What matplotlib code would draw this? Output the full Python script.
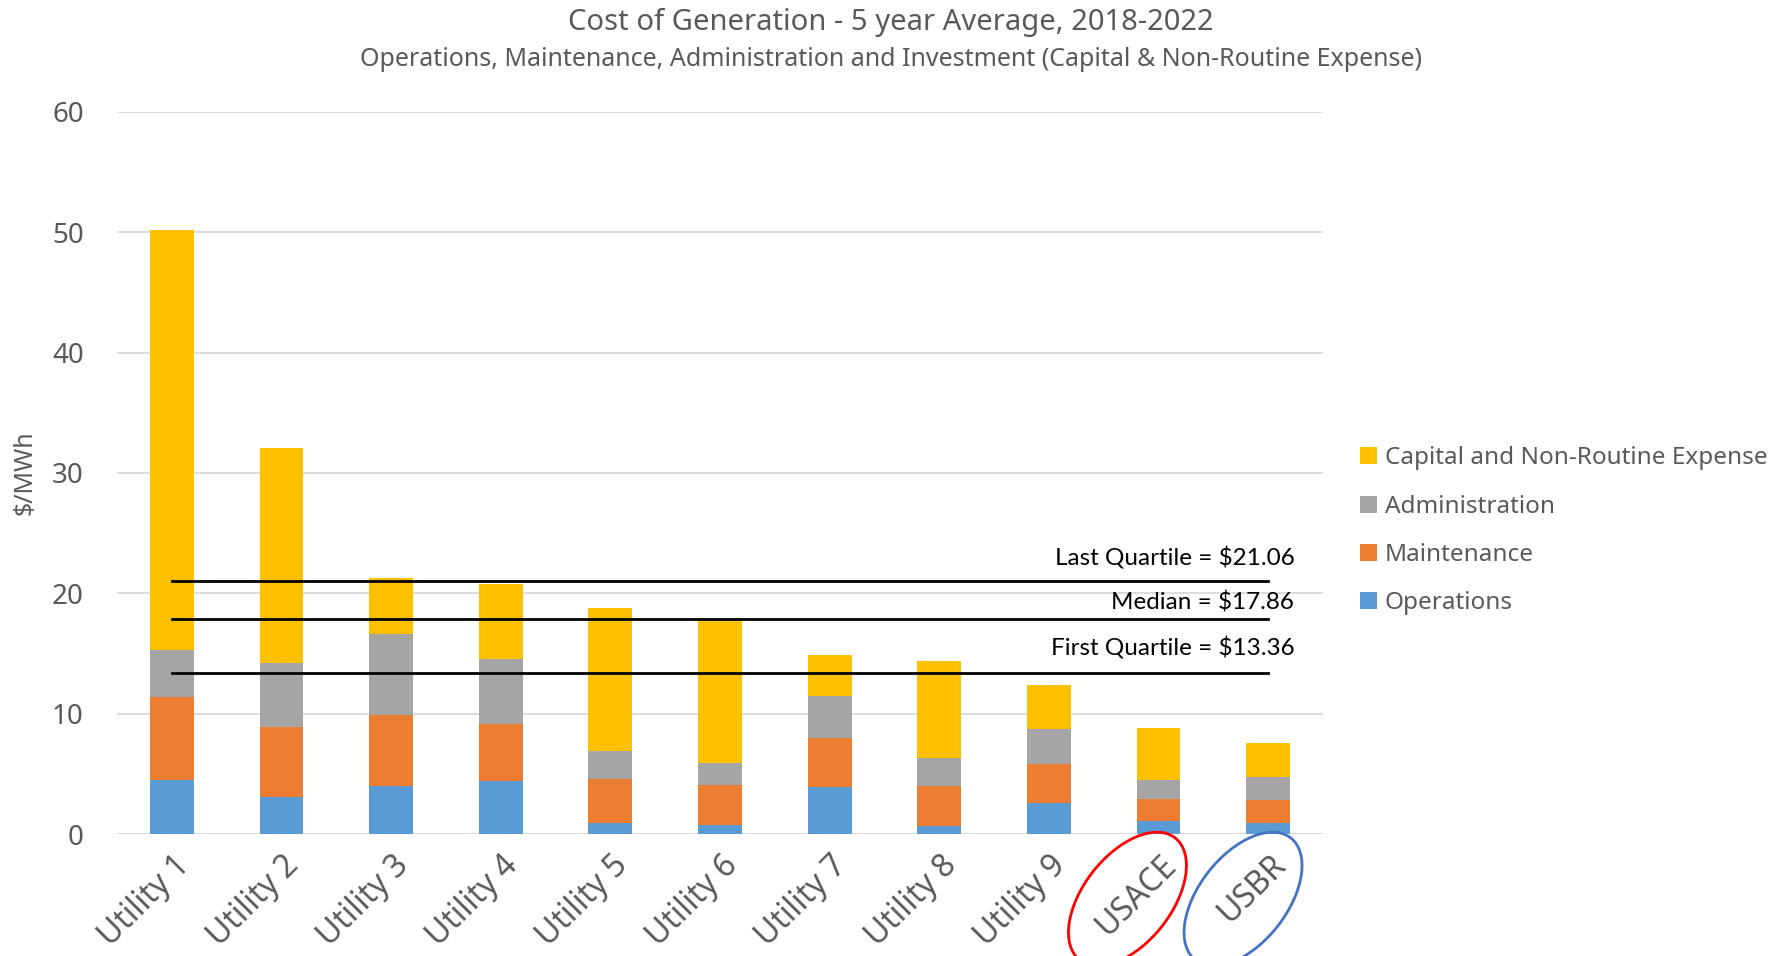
import matplotlib
matplotlib.use("Agg")
import matplotlib.pyplot as plt
import matplotlib.transforms as mtransforms
from matplotlib.patches import Ellipse
import numpy as np

categories = ["Utility 1", "Utility 2", "Utility 3", "Utility 4", "Utility 5", "Utility 6",
              "Utility 7", "Utility 8", "Utility 9", "USACE", "USBR"]
operations = [4.5, 3.1, 4.0, 4.4, 0.95, 0.75, 3.9, 0.7, 2.6, 1.1, 0.9]
maintenance = [6.9, 5.8, 5.9, 4.7, 3.65, 3.35, 4.1, 3.3, 3.2, 1.8, 1.9]
administration = [3.9, 5.3, 6.7, 5.4, 2.3, 1.8, 3.5, 2.3, 2.9, 1.6, 1.9]
capital = [34.9, 17.9, 4.7, 6.3, 11.9, 12.0, 3.4, 8.1, 3.7, 4.3, 2.9]
quartile_values = [21.06, 17.86, 13.36]
quartile_labels = ["Last Quartile = $21.06", "Median = $17.86", "First Quartile = $13.36"]
y_ticks = [0, 10, 20, 30, 40, 50, 60]

series = [("Operations", operations, "#5B9BD5"),
          ("Maintenance", maintenance, "#ED7D31"),
          ("Administration", administration, "#A5A5A5"),
          ("Capital and Non-Routine Expense", capital, "#FFC000")]

plt.rcParams['font.family'] = ['Noto Sans', 'DejaVu Sans']
text_color = "#595959"

fig = plt.figure(figsize=(17.85, 9.56), dpi=100)
ax = fig.add_axes([0.0656, 0.1276, 0.6755, 0.7554])

x = np.arange(len(categories))
bottom = np.zeros(len(categories))
handles = []
for name, vals, color in series:
    b = ax.bar(x, vals, width=0.40, bottom=bottom, color=color, label=name, zorder=2)
    handles.append(b)
    bottom = bottom + np.array(vals)

ax.set_xlim(-0.5, len(categories) - 0.5)
ax.set_ylim(0, 60)
ax.set_yticks(y_ticks)
ax.yaxis.grid(True, color="#d9d9d9", linewidth=1.3, zorder=0)
ax.set_axisbelow(True)
for s in ax.spines.values():
    s.set_visible(False)
ax.axhline(0, color="#d9d9d9", linewidth=1.5, zorder=1)
ax.tick_params(axis='y', length=0, pad=24, labelsize=20, labelcolor=text_color)
ax.tick_params(axis='x', length=0, pad=2, labelsize=23, labelcolor=text_color)
ax.set_xticks(x)
ax.set_xticklabels(categories, rotation=45, ha='right', va='center', rotation_mode='anchor')
offset = mtransforms.ScaledTranslation(9 / 72, -17 / 72, fig.dpi_scale_trans)
for lab in ax.get_xticklabels():
    lab.set_transform(lab.get_transform() + offset)

ax.set_ylabel("$/MWh", fontsize=18, color=text_color)
ax.yaxis.set_label_coords(-0.066, 0.5)

# quartile lines
for val in quartile_values:
    ax.plot([0, len(categories) - 1], [val, val], color="black", linewidth=2, zorder=3)
for val, lab, dy in zip(quartile_values, quartile_labels, [1.91, 1.4, 2.1]):
    ax.text(10.24, val + dy, lab, ha='right', va='center', fontsize=17.5,
            family=['Lato', 'DejaVu Sans'], color="black", zorder=4)

# legend
leg = ax.legend(handles[::-1], [s[0] for s in series][::-1], loc='center left',
                bbox_to_anchor=(1.017, 0.42), frameon=False, fontsize=17.5,
                handlelength=0.7, handleheight=0.7, handletextpad=0.3,
                labelspacing=1.0, labelcolor=text_color, borderaxespad=0.3)

# titles
fig.text(0.499, 0.977, "Cost of Generation - 5 year Average, 2018-2022", ha='center', va='center',
         fontsize=21, color=text_color)
fig.text(0.499, 0.938, "Operations, Maintenance, Administration and Investment (Capital & Non-Routine Expense)",
         ha='center', va='center', fontsize=18, color=text_color)

# ellipses around USACE and USBR labels
fig.canvas.draw()
for idx, col, dx in [(9, "#FF0000", -31), (10, "#4472C4", -25)]:
    px, py = ax.transData.transform((idx, 0))
    e = Ellipse((px + dx, py - 65), 155, 88, angle=52, fill=False, edgecolor=col,
                linewidth=2, transform=mtransforms.IdentityTransform())
    fig.patches.append(e)

fig.savefig("out.png", dpi=100)
